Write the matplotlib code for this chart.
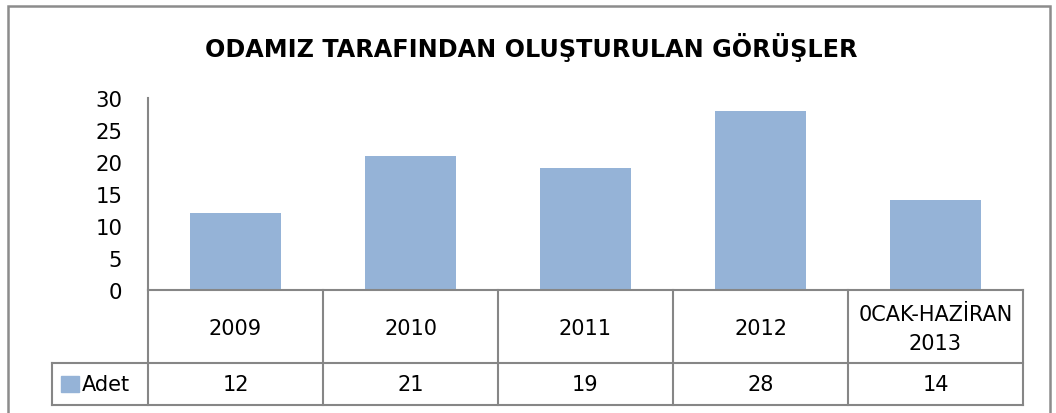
import matplotlib.pyplot as plt
from matplotlib.patches import Rectangle
import matplotlib.transforms as mtransforms

plt.rcParams['font.family'] = ['DejaVu Sans']

# data
categories = ['2009', '2010', '2011', '2012', '0CAK-HAZİRAN\n2013']
values = [12, 21, 19, 28, 14]
series_name = 'Adet'
title = 'ODAMIZ TARAFINDAN OLUŞTURULAN GÖRÜŞLER'
yticks = [0, 5, 10, 15, 20, 25, 30]

bar_color = '#95B3D7'
grid_gray = '#868686'

W, H = 1056, 414
fig = plt.figure(figsize=(W / 100, H / 100), dpi=100)

# outer chart frame
fig.patches.append(Rectangle((8 / W, -0.1), (1050 - 8) / W, 1.1 - 7 / H,
                             transform=fig.transFigure, fill=False,
                             edgecolor='#8c8c8c', lw=1.8))

fig.text(531 / W, 1 - 47 / H, title, ha='center', va='center',
         fontsize=17.2, fontweight='bold')

ax = fig.add_axes([148 / W, (H - 291) / H, (1023 - 148) / W, (291 - 99) / H])
x = list(range(len(categories)))
ax.bar(x, values, width=0.52, color=bar_color)
ax.set_xlim(-0.5, len(categories) - 0.5)
ax.set_ylim(0, 30)
ax.set_yticks(yticks)
ax.tick_params(axis='y', length=0, pad=18.5, labelsize=15.3)
ax.set_xticks([])
for s in ['top', 'right', 'bottom']:
    ax.spines[s].set_visible(False)
ax.spines['left'].set_color(grid_gray)
ax.spines['left'].set_linewidth(1.5)

# data table under the plot
trans = mtransforms.blended_transform_factory(ax.transData, ax.transAxes)
row1 = -(364 - 291) / 192
row2 = -(406 - 291) / 192
left_cell = -0.5 - (148 - 52) / 175
lkw = dict(color=grid_gray, lw=1.5, transform=trans, clip_on=False)

ax.plot([-0.5, len(categories) - 0.5], [0, 0], **lkw)
ax.plot([left_cell, len(categories) - 0.5], [row1, row1], **lkw)
ax.plot([left_cell, len(categories) - 0.5], [row2, row2], **lkw)
ax.plot([left_cell, left_cell], [row1, row2], **lkw)
for i in range(len(categories) + 1):
    ax.plot([i - 0.5, i - 0.5], [0, row2], **lkw)

for i, (c, v) in enumerate(zip(categories, values)):
    ax.text(i, row1 / 2 - 0.01, c, ha='center', va='center', fontsize=15,
            transform=trans, linespacing=1.55)
    ax.text(i, (row1 + row2) / 2, str(v), ha='center', va='center',
            fontsize=15, transform=trans)

# legend key inside the table
ax.add_patch(Rectangle((left_cell + 9 / 175, (row1 + row2) / 2 - 0.04),
                       18 / 175, 0.08, transform=trans, clip_on=False,
                       color=bar_color))
ax.text(left_cell + 30 / 175, (row1 + row2) / 2, series_name, ha='left',
        va='center', fontsize=15, transform=trans)

fig.savefig('out.png', dpi=100)
